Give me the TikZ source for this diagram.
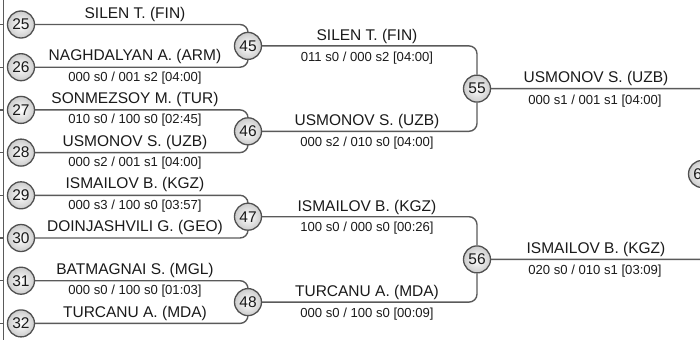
\documentclass[tikz,border=0pt]{standalone}
\usepackage{fontspec}
\setmainfont{Liberation Sans}
\definecolor{linegray}{HTML}{5A5A5A}
\definecolor{circgray}{HTML}{505050}
\definecolor{txt}{HTML}{1A1A1A}
\begin{document}
\begin{tikzpicture}[x=1pt,y=-1pt,
  conn/.style={draw=linegray, line width=1.4pt, rounded corners=8pt},
  edgeline/.style={draw=linegray, line width=1.2pt},
  mnode/.style={circle, draw=circgray, line width=1.3pt, minimum size=27pt, inner sep=0pt,
    inner color=white, outer color=black!20, text=txt, font=\fontsize{15.5}{15}\selectfont},
  pname/.style={anchor=base, inner sep=0pt, text=txt, font=\fontsize{15.5}{16}\selectfont},
  pscore/.style={anchor=base, inner sep=0pt, text=txt, font=\fontsize{13.1}{14}\selectfont}]
\useasboundingbox (0,0) rectangle (700,340);

% left edge remnants
\draw[edgeline] (3.5,0) -- (3.5,340);
\foreach \yy in {24.5,67.2,109.9,152.6,195.3,238,280.7,323.4}
  \draw[edgeline] (0,\yy) -- (3.5,\yy);

% round 1 circles
\node[mnode] (c25) at (21,24.5) {25};
\node[mnode] (c26) at (21,67.2) {26};
\node[mnode] (c27) at (21,109.9) {27};
\node[mnode] (c28) at (21,152.6) {28};
\node[mnode] (c29) at (21,195.3) {29};
\node[mnode] (c30) at (21,238) {30};
\node[mnode] (c31) at (21,280.7) {31};
\node[mnode] (c32) at (21,323.4) {32};
% round 2
\node[mnode] (c45) at (248,45.9) {45};
\node[mnode] (c46) at (248,131.3) {46};
\node[mnode] (c47) at (248,216.7) {47};
\node[mnode] (c48) at (248,302.1) {48};
% round 3
\node[mnode] (c55) at (477,88.6) {55};
\node[mnode] (c56) at (477,259.4) {56};
% round 4
\node[mnode] (c60) at (702,174) {60};

% connectors
\draw[conn] (c25) -| (c45);
\draw[conn] (c26) -| (c45);
\draw[conn] (c27) -| (c46);
\draw[conn] (c28) -| (c46);
\draw[conn] (c29) -| (c47);
\draw[conn] (c30) -| (c47);
\draw[conn] (c31) -| (c48);
\draw[conn] (c32) -| (c48);
\draw[conn] (c45) -| (c55);
\draw[conn] (c46) -| (c55);
\draw[conn] (c47) -| (c56);
\draw[conn] (c48) -| (c56);
\draw[conn, rounded corners=2pt] (c55) -| (c60);
\draw[conn, rounded corners=2pt] (c56) -| (c60);

% round 1 texts
\node[pname] (n25) at (135,18) {SILEN T. (FIN)};
\node[pname] (n26) at (135,60.8) {NAGHDALYAN A. (ARM)};
\node[pscore] (s26) at (135,81) {000 s0 / 001 s2 [04:00]};
\node[pname] (n27) at (135,103.5) {SONMEZSOY M. (TUR)};
\node[pscore] (s27) at (135,123.7) {010 s0 / 100 s0 [02:45]};
\node[pname] (n28) at (135,146.2) {USMONOV S. (UZB)};
\node[pscore] (s28) at (135,166.4) {000 s2 / 001 s1 [04:00]};
\node[pname] (n29) at (135,188.9) {ISMAILOV B. (KGZ)};
\node[pscore] (s29) at (135,209.1) {000 s3 / 100 s0 [03:57]};
\node[pname] (n30) at (135,231.6) {DOINJASHVILI G. (GEO)};
\node[pname] (n31) at (135,274.3) {BATMAGNAI S. (MGL)};
\node[pscore] (s31) at (135,294.5) {000 s0 / 100 s0 [01:03]};
\node[pname] (n32) at (135,317) {TURCANU A. (MDA)};

% round 2 texts
\node[pname] (n45) at (367,40.2) {SILEN T. (FIN)};
\node[pscore] (s45) at (367,61) {011 s0 / 000 s2 [04:00]};
\node[pname] (n46) at (367,125.6) {USMONOV S. (UZB)};
\node[pscore] (s46) at (367,146.4) {000 s2 / 010 s0 [04:00]};
\node[pname] (n47) at (367,211) {ISMAILOV B. (KGZ)};
\node[pscore] (s47) at (367,231.8) {100 s0 / 000 s0 [00:26]};
\node[pname] (n48) at (367,296.4) {TURCANU A. (MDA)};
\node[pscore] (s48) at (367,317.2) {000 s0 / 100 s0 [00:09]};

% round 3 texts
\node[pname] (n55) at (596,82.4) {USMONOV S. (UZB)};
\node[pscore] (s55) at (595,104) {000 s1 / 001 s1 [04:00]};
\node[pname] (n56) at (596,253.2) {ISMAILOV B. (KGZ)};
\node[pscore] (s56) at (595,274.8) {020 s0 / 010 s1 [03:09]};
\end{tikzpicture}
\end{document}
